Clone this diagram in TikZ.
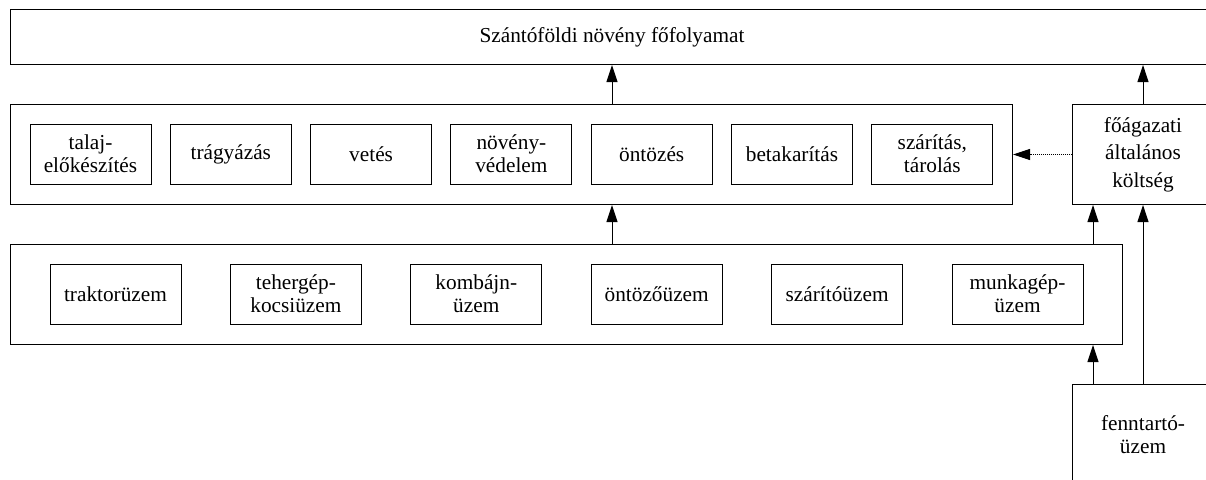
\documentclass[tikz,border=0pt]{standalone}
\usepackage{fontspec}
\setmainfont{Liberation Serif}
\usetikzlibrary{arrows.meta}
\begin{document}
\begin{tikzpicture}[x=1pt,y=-1pt, line width=1pt,
  box/.style={draw, rectangle, inner sep=0pt, align=center,
    font=\fontsize{21.3}{22.7}\selectfont},
  wide/.style={box, font=\fontsize{21.3}{27.5}\selectfont},
  frame/.style={draw, rectangle, inner sep=0pt},
  arr/.style={-{Triangle[length=17pt,width=11pt]}},
  darr/.style={-{Triangle[length=17pt,width=11pt]}, line width=0.8pt, dash pattern=on 1pt off 1pt}]
\useasboundingbox (0,0) rectangle (1206,479);
\clip (0,0) rectangle (1206,479);
% top process
\node[box, minimum width=1203pt, minimum height=55pt, anchor=north west] (top) at (10,9) {Szántóföldi növény főfolyamat};
% middle frame
\node[frame, minimum width=1002pt, minimum height=100pt, anchor=north west] (mid) at (10,104) {};
\node[box, minimum width=121pt, minimum height=60pt] (p1) at (90.5,154) {talaj-\\előkészítés};
\node[box, minimum width=121pt, minimum height=60pt] (p2) at (230.8,154) {trágyázás};
\node[box, minimum width=121pt, minimum height=60pt] (p3) at (371.1,154) {vetés};
\node[box, minimum width=121pt, minimum height=60pt] (p4) at (511.4,154) {növény-\\védelem};
\node[box, minimum width=121pt, minimum height=60pt] (p5) at (651.7,154) {öntözés};
\node[box, minimum width=121pt, minimum height=60pt] (p6) at (792.0,154) {betakarítás};
\node[box, minimum width=121pt, minimum height=60pt] (p7) at (932.3,154) {szárítás,\\tárolás};
% bottom frame
\node[frame, minimum width=1112pt, minimum height=100pt, anchor=north west] (bot) at (10,244) {};
\node[box, minimum width=131pt, minimum height=60pt] (u1) at (115.5,294) {traktorüzem};
\node[box, minimum width=131pt, minimum height=60pt] (u2) at (295.9,294) {tehergép-\\kocsiüzem};
\node[box, minimum width=131pt, minimum height=60pt] (u3) at (476.3,294) {kombájn-\\üzem};
\node[box, minimum width=131pt, minimum height=60pt] (u4) at (656.7,294) {öntözőüzem};
\node[box, minimum width=131pt, minimum height=60pt] (u5) at (837.1,294) {szárítóüzem};
\node[box, minimum width=131pt, minimum height=60pt] (u6) at (1017.5,294) {munkagép-\\üzem};
% right boxes
\node[wide, minimum width=141pt, minimum height=100pt, anchor=north west] (fo) at (1072,104) {főágazati\\általános\\költség};
\node[box, minimum width=141pt, minimum height=100pt, anchor=north west] (fen) at (1072,384) {fenntartó-\\üzem};
\coordinate (sx) at (1093,0);
% connectors
\draw[arr] (top.south |- mid.north) -- (top.south);
\draw[arr] (top.south |- bot.north) -- (top.south |- mid.south);
\draw[arr] (fo.north) -- (fo.north |- top.south);
\draw[arr] (sx |- fen.north) -- (sx |- bot.south);
\draw[arr] (sx |- bot.north) -- (sx |- fo.south);
\draw[arr] (fen.north) -- (fo.south);
\draw[darr] (fo.west) -- (fo.west -| mid.east);
\end{tikzpicture}
\end{document}
